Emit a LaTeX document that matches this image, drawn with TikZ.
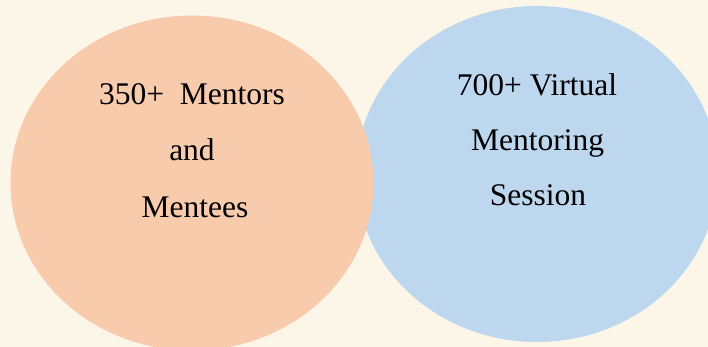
\documentclass[tikz,border=0pt]{standalone}
\usepackage{fontspec}
\setmainfont{Liberation Serif}
\usetikzlibrary{shapes.geometric}
\definecolor{bgcream}{HTML}{FCF6E9}
\definecolor{peach}{HTML}{F8CBAD}
\definecolor{skyblue}{HTML}{BDD7EE}
\tikzset{
  blob/.style={ellipse, inner sep=0pt, draw=none},
  label/.style={anchor=base, inner sep=0pt, text=black, font=\fontsize{31.5}{38}\selectfont}
}
\begin{document}
\begin{tikzpicture}[x=1pt,y=-1pt]
\fill[bgcream] (0,0) rectangle (708,347);
\useasboundingbox (0,0) rectangle (708,347);
\begin{scope}
\clip (0,0) rectangle (708,347);
\node[blob, fill=skyblue, minimum width=362pt, minimum height=336pt] (blue) at (537,174) {};
\node[blob, fill=peach, minimum width=363pt, minimum height=335pt] (orange) at (192,183) {};
\end{scope}
\node[label] (o1) at (192,105) {350+\ \ Mentors};
\node[label] (o2) at (192,161) {and};
\node[label] (o3) at (195,217) {Mentees};
\node[label] (b1) at (537,96) {700+ Virtual};
\node[label] (b2) at (537.5,151) {Mentoring};
\node[label] (b3) at (538,205) {Session};
\end{tikzpicture}
\end{document}
